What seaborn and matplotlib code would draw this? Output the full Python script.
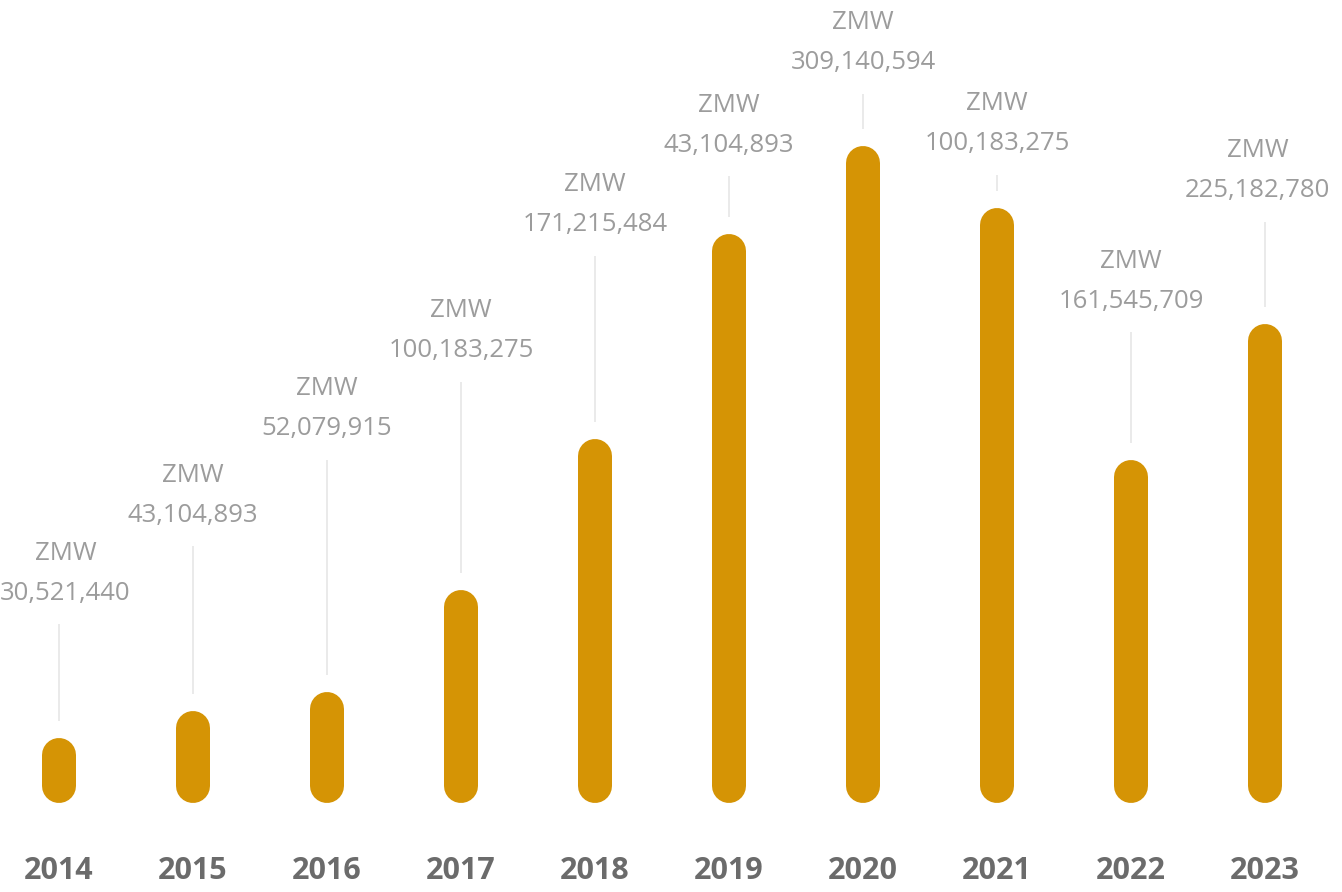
import matplotlib
matplotlib.use("Agg")
import matplotlib.pyplot as plt
import seaborn as sns
import pandas as pd

# ---- data ----
years = ["2014", "2015", "2016", "2017", "2018", "2019", "2020", "2021", "2022", "2023"]
bar_values = [30521440, 43104893, 52079915, 100183275, 171215484,
              267700000, 309140594, 280000000, 161545709, 225182780]
label_texts = ["30,521,440", "43,104,893", "52,079,915", "100,183,275", "171,215,484",
               "43,104,893", "309,140,594", "100,183,275", "161,545,709", "225,182,780"]
currency = "ZMW"
# label anchor heights (same units as the values)
label_levels = [98.8e6, 135.5e6, 176.0e6, 212.7e6, 272.0e6,
                309.6e6, 348.2e6, 310.1e6, 236.2e6, 288.0e6]

df = pd.DataFrame({"year": years, "value": bar_values})

W, H, DPI = 1342, 892, 100
BAR_COLOR = "#D59405"
TXT_COLOR = "#9C9C9C"
YEAR_COLOR = "#6B6B6B"
LINE_COLOR = "#E6E6E6"

sns.set_theme(style="white")
plt.rcParams["font.family"] = ["Open Sans", "DejaVu Sans"]

fig = plt.figure(figsize=(W / DPI, H / DPI), dpi=DPI)
ax = fig.add_axes([0, 0, 1, 1])

bar_w = 34 / 134
sns.barplot(data=df, x="year", y="value", color=BAR_COLOR, width=bar_w,
            saturation=1, ax=ax, errorbar=None)

xmin, xmax = -59 / 134, (W - 59) / 134
ymax = 803 / 2.1253 * 1e6
ymin = -(H - 803) / 2.1253 * 1e6
ax.set_xlim(xmin, xmax)
ax.set_ylim(ymin, ymax)
ax.axis("off")

dx_px = (xmax - xmin) / W
dy_px = (ymax - ymin) / H

# replace rectangles with capsules (round-capped thick lines of the same geometry)
bar_px = 34
lw_pt = bar_px * 72 / DPI
r = bar_px / 2 * dy_px
for p in list(ax.patches):
    x0, y0 = p.get_x(), p.get_y()
    w, h = p.get_width(), p.get_height()
    p.remove()
    xc = x0 + w / 2
    ax.plot([xc, xc], [y0 + r, y0 + h - r], color=BAR_COLOR, lw=lw_pt,
            solid_capstyle="round", zorder=3)

texts = []
for i, (v, lvl, txt) in enumerate(zip(bar_values, label_levels, label_texts)):
    t1 = ax.text(i, lvl, txt, ha="center", va="center", fontsize=18.5, color=TXT_COLOR)
    t2 = ax.text(i, lvl + 40 * dy_px, currency, ha="center", va="center",
                 fontsize=18.5, color=TXT_COLOR)
    texts.append((t1, t2))
    ax.plot([i, i], [lvl - 31 * dy_px, v + 17 * dy_px], color=LINE_COLOR,
            lw=1.2, zorder=1, solid_capstyle="butt")
    ax.text(i, ymin + (H - 871) * dy_px, years[i], ha="center", va="center",
            fontsize=22, fontweight="bold", color=YEAR_COLOR)

# keep label blocks inside the canvas
fig.canvas.draw()
rend = fig.canvas.get_renderer()
for t1, t2 in texts:
    bb = t1.get_window_extent(rend)
    shift = 0
    if bb.x0 < 0:
        shift = -bb.x0
    elif bb.x1 > W - 12:
        shift = (W - 12) - bb.x1
    if shift:
        for t in (t1, t2):
            x, y = t.get_position()
            t.set_position((x + shift * dx_px, y))

fig.savefig("out.png", dpi=DPI, facecolor="white")
